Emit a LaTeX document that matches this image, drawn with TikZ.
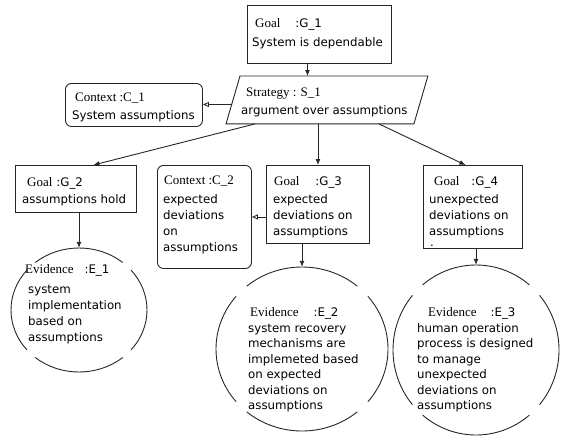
\documentclass[tikz,border=0pt]{standalone}
\usepackage{fontspec}
\setmainfont{DejaVu Sans}
\newfontfamily\serifhd{Liberation Serif}
\usetikzlibrary{arrows.meta,shapes.geometric,calc}
\newcommand\hdser{\fontsize{13}{15}\selectfont\serifhd}
\newcommand\brokenell[3]{%
  \foreach \a in {50,140,230,320}{%
    \draw[line] ($(#1.center)+(\a:#2 and #3)$) arc[start angle=\a, delta angle=80, x radius=#2, y radius=#3];}}
\tikzset{
  line/.style={draw=black!85, line width=0.9pt},
  box/.style={line, rectangle, anchor=north west, inner sep=0},
  ctxbox/.style={box, rounded corners=6pt},
  ell/.style={ellipse, inner sep=0, draw=none},
  arr/.style={line, -{Latex[length=6pt,width=5pt]}},
  ctxarr/.style={line, -{Triangle[open,length=6pt,width=5pt]}},
  txt/.style={inner sep=0, anchor=base west, font=\fontsize{11.8}{15.7}\selectfont},
}
\begin{document}
\begin{tikzpicture}[x=1pt,y=-1pt]
\useasboundingbox (0,0) rectangle (561,437);

% boxes
\node[box, minimum width=144pt, minimum height=58pt] (G1) at (247,5) {};
\node[box, draw=none, minimum width=201pt, minimum height=47pt] (S1) at (226,76) {};
\draw[line] ([xshift=14pt]S1.north west) -- (S1.north east) -- ([xshift=-14pt]S1.south east) -- (S1.south west) -- cycle;
\node[ctxbox, minimum width=137pt, minimum height=43pt] (C1) at (65,83) {};
\node[box, minimum width=121pt, minimum height=47pt] (G2) at (15,165) {};
\node[ctxbox, minimum width=94pt, minimum height=103pt] (C2) at (157,165) {};
\node[box, minimum width=103pt, minimum height=78pt] (G3) at (266,165) {};
\node[box, minimum width=99pt, minimum height=83pt] (G4) at (423,165) {};
\node[ell, minimum width=136pt, minimum height=124pt] (E1) at (79,310) {};
\node[ell, minimum width=172pt, minimum height=164pt] (E2) at (302,349) {};
\node[ell, minimum width=166pt, minimum height=170pt] (E3) at (476,350) {};
\brokenell{E1}{68pt}{62pt}
\brokenell{E2}{86pt}{82pt}
\brokenell{E3}{83pt}{85pt}

% texts
\node[txt] (G1h) at (255,27) {{\hdser Goal}\hspace{15pt}:G\_1};
\node[txt] (G1b) at (252,46) {System is dependable};
\node[txt] (S1h) at (246,96) {\hdser Strategy : S\_\oldstylenums{1}};
\node[txt] (S1b) at (241,114) {argument over assumptions};
\node[txt] (C1h) at (75,101) {\hdser Context :C\_\oldstylenums{1}};
\node[txt] (C1b) at (72,119) {System assumptions};
\node[txt] (G2h) at (27,186) {{\hdser Goal}\hspace{4pt}:G\_2};
\node[txt] (G2b) at (22,203) {assumptions hold};
\node[txt] (C2h) at (164,184) {\hdser Context :C\_\oldstylenums{2}};
\foreach \t [count=\i from 0] in {expected, deviations, on, assumptions}
  \node[txt] (C2l\i) at (163,{203+16*\i}) {\t};
\node[txt] (G3h) at (274,185) {{\hdser Goal}\hspace{16pt}:G\_3};
\foreach \t [count=\i from 0] in {expected, deviations on, assumptions}
  \node[txt] (G3l\i) at (273,{203+16*\i}) {\t};
\node[txt] (G4h) at (434,185) {{\hdser Goal}\hspace{12pt}:G\_4};
\foreach \t [count=\i from 0] in {unexpected, deviations on, assumptions}
  \node[txt] (G4l\i) at (429,{203+16*\i}) {\t};
\node[txt] (G4dot) at (430,246.5) {.};
\node[txt] (E1h) at (25,273) {{\hdser Evidence}\hspace{11pt}:E\_1};
\foreach \t [count=\i from 0] in {system, implementation, based on, assumptions}
  \node[txt] (E1l\i) at (28,{293+16*\i}) {\t};
\node[txt] (E2h) at (250,316) {{\hdser Evidence}\hspace{15pt}:E\_2};
\foreach \t [count=\i from 0] in {system recovery, mechanisms are, implemeted based, on expected, deviations on, assumptions}
  \node[txt] (E2l\i) at (248,{332+15.5*\i}) {\t};
\node[txt] (E3h) at (428,316) {{\hdser Evidence}\hspace{14pt}:E\_3};
\foreach \t [count=\i from 0] in {human operation, process is designed, to manage, unexpected, deviations on, assumptions}
  \node[txt] (E3l\i) at (417,{332+15.5*\i}) {\t};

% connectors
\draw[arr] ([xshift=-12pt]G1.south) -- ([xshift=-12pt]G1.south |- S1.north);
\coordinate (S1L) at (232,104.5);
\draw[ctxarr] (S1L) -- (S1L -| C1.east);
\draw[arr] ([xshift=29pt]S1.south west) -- ([xshift=17.5pt]G2.north);
\draw[arr] (S1.south -| G3.north) -- (G3.north);
\draw[arr] ([xshift=-49pt]S1.south east) -- ([xshift=-7.5pt]G4.north);
\draw[ctxarr] (G3.west |- C2.east) -- (C2.east);
\draw[arr] (G2.south -| E1.north) -- (E1.north);
\draw[arr] (G3.south -| E2.north) -- (E2.north);
\draw[arr] (G4.south -| E3.north) -- (E3.north);
\end{tikzpicture}
\end{document}
